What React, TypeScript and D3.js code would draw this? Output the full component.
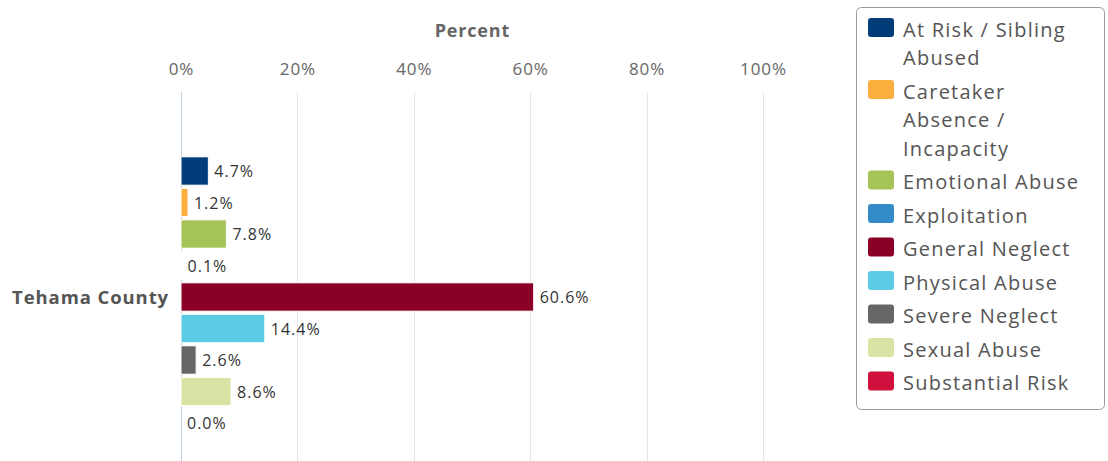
import React from "react";
import * as d3 from "d3";

const categories = ["Tehama County"];
const seriesNames = [
  "At Risk / Sibling Abused",
  "Caretaker Absence / Incapacity",
  "Emotional Abuse",
  "Exploitation",
  "General Neglect",
  "Physical Abuse",
  "Severe Neglect",
  "Sexual Abuse",
  "Substantial Risk",
];
const seriesColors = [
  "#023d7a",
  "#fcae3e",
  "#a6c358",
  "#338bc7",
  "#8a0026",
  "#5ccbe6",
  "#666666",
  "#d9e4a4",
  "#d0113d",
];
const values = [4.7, 1.2, 7.8, 0.1, 60.6, 14.4, 2.6, 8.6, 0.0];
const xTicks = [0, 20, 40, 60, 80, 100];
const legendLines = [
  ["At Risk / Sibling", "Abused"],
  ["Caretaker", "Absence /", "Incapacity"],
  ["Emotional Abuse"],
  ["Exploitation"],
  ["General Neglect"],
  ["Physical Abuse"],
  ["Severe Neglect"],
  ["Sexual Abuse"],
  ["Substantial Risk"],
];

const W = 1108;
const H = 461;
const FONT = "'Open Sans', 'Noto Sans', sans-serif";

export default function App() {
  const x = d3.scaleLinear().domain([0, 100]).range([181, 763]);
  const y = d3.scaleBand<string>().domain(categories).range([92, 502]);
  const groupCenter = (y(categories[0]) as number) + y.bandwidth() / 2;
  const inner = d3
    .scaleBand<string>()
    .domain(seriesNames)
    .range([groupCenter - 4.5 * 31.5, groupCenter + 4.5 * 31.5])
    .paddingInner(0.1)
    .paddingOuter(0.05);

  let ly = 30;
  const legendItems = legendLines.map((lines, i) => {
    const item = { lines, y: ly, color: seriesColors[i] };
    ly += (lines.length - 1) * 28.5 + 33.5;
    return item;
  });

  return (
    <svg
      width={W}
      height={H}
      style={{ position: "absolute", left: 0, top: 0, fontFamily: FONT }}
    >
      <rect x={0} y={0} width={W} height={H} fill="#fff" />
      {xTicks.map((t) => (
        <line
          key={"g" + t}
          x1={Math.round(x(t)) + 0.5}
          x2={Math.round(x(t)) + 0.5}
          y1={92}
          y2={H}
          stroke={t === 0 ? "#c0d0e0" : "#e6e6e6"}
          strokeWidth={1}
        />
      ))}
      <text
        x={(x(0) + x(100)) / 2 + 0.4}
        y={36.5}
        textAnchor="middle"
        fontSize={18}
        fontWeight="bold"
        fill="#666"
        letterSpacing={0.8}
      >
        Percent
      </text>
      {xTicks.map((t) => (
        <text
          key={"t" + t}
          x={x(t) + 0.5}
          y={74.5}
          textAnchor="middle"
          fontSize={17}
          fill="#666"
          letterSpacing={0.9}
        >
          {t + "%"}
        </text>
      ))}
      <text
        x={169}
        y={groupCenter + 6.5}
        textAnchor="end"
        fontSize={18.5}
        fontWeight="bold"
        fill="#555"
        letterSpacing={0.9}
      >
        {categories[0]}
      </text>
      {values.map((v, i) => {
        const by = inner(seriesNames[i]) as number;
        const bh = inner.bandwidth();
        const bw = x(v) - x(0);
        return (
          <g key={"b" + i}>
            {bw > 0.5 && (
              <rect
                x={x(0)}
                y={by}
                width={bw}
                height={bh}
                fill={seriesColors[i]}
                stroke="#fff"
                strokeWidth={1}
              />
            )}
            <text
              x={x(v) + 6}
              y={by + bh / 2 + 6}
              fontSize={16}
              fill="#333"
              letterSpacing={1.0}
            >
              {v.toFixed(1) + "%"}
            </text>
          </g>
        );
      })}
      <rect
        x={856.5}
        y={7.5}
        width={248}
        height={402}
        rx={5}
        fill="#fff"
        stroke="#999"
        strokeWidth={1}
      />
      {legendItems.map((it, i) => (
        <g key={"l" + i}>
          <rect x={868} y={it.y - 12} width={26} height={19} rx={3} fill={it.color} />
          {it.lines.map((ln, j) => (
            <text
              key={j}
              x={903}
              y={it.y + 6.5 + j * 28.5}
              fontSize={20}
              fill="#555"
              letterSpacing={1.25}
            >
              {ln}
            </text>
          ))}
        </g>
      ))}
    </svg>
  );
}
